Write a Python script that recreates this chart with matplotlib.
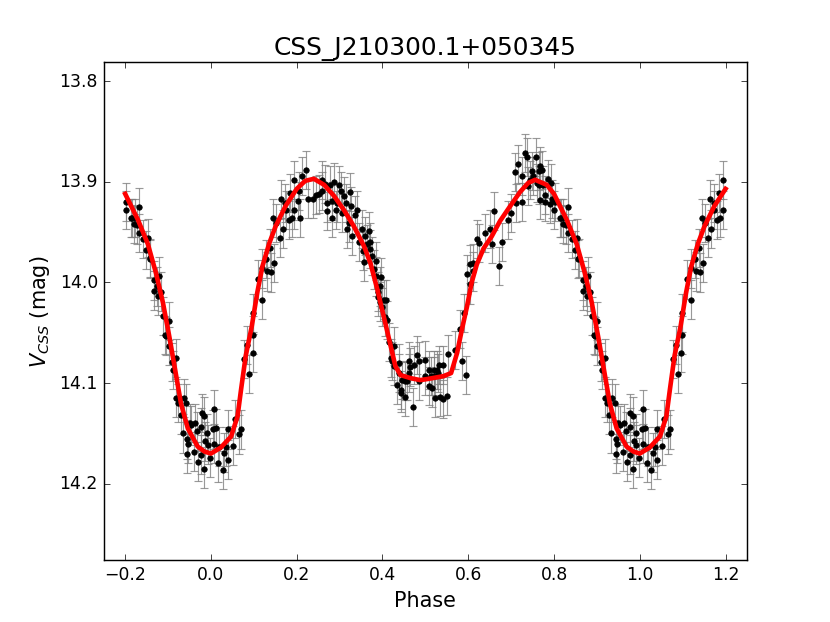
import numpy as np
import matplotlib
matplotlib.use('Agg')
import matplotlib.pyplot as plt

plt.style.use('classic')
plt.rcParams['mathtext.fontset'] = 'dejavusans'

title = "CSS_J210300.1+050345"

# Observed data (phase in [0,1), magnitude)
phase = np.array([
    0.004, 0.008, 0.008, 0.012, 0.017, 0.019, 0.027, 0.031, 0.035, 0.039, 0.039,
    0.052, 0.056, 0.066, 0.071, 0.078, 0.085, 0.089, 0.097, 0.098, 0.098, 0.109,
    0.119, 0.120, 0.128, 0.130, 0.138, 0.140, 0.145, 0.147, 0.151, 0.160, 0.163,
    0.167, 0.172, 0.174, 0.181, 0.184, 0.188, 0.194, 0.194,
    0.202, 0.205, 0.208, 0.213, 0.221, 0.226, 0.239, 0.244, 0.252, 0.260, 0.260,
    0.267, 0.271, 0.271, 0.277, 0.283, 0.283, 0.287, 0.291, 0.295, 0.298, 0.304,
    0.306, 0.310, 0.314, 0.318, 0.322, 0.324, 0.327, 0.330, 0.337, 0.341, 0.345,
    0.353, 0.355, 0.358, 0.360, 0.364, 0.368, 0.370, 0.372, 0.376, 0.380, 0.384,
    0.386, 0.389, 0.389, 0.394, 0.395, 0.397, 0.399, 0.403, 0.407, 0.409, 0.411,
    0.415, 0.419, 0.423, 0.426, 0.428, 0.433, 0.438, 0.438, 0.442, 0.443, 0.446,
    0.453, 0.453, 0.457, 0.461, 0.461, 0.465, 0.471, 0.474, 0.481, 0.484, 0.484,
    0.498, 0.498, 0.508, 0.508, 0.512, 0.516, 0.519, 0.521, 0.523, 0.527, 0.529,
    0.531, 0.533, 0.540, 0.541, 0.550, 0.552, 0.570, 0.580, 0.585, 0.591, 0.595,
    0.598, 0.603, 0.605, 0.612, 0.612, 0.620, 0.626, 0.640, 0.651, 0.655, 0.659,
    0.671, 0.678, 0.692, 0.699, 0.709, 0.712, 0.717,
    0.725, 0.725, 0.733, 0.738, 0.740, 0.744, 0.748, 0.752, 0.758, 0.760, 0.764,
    0.764, 0.767, 0.767, 0.771, 0.774, 0.779, 0.779, 0.787, 0.791, 0.792, 0.795,
    0.801, 0.802, 0.814, 0.816, 0.820, 0.822, 0.828, 0.833, 0.833, 0.841, 0.849,
    0.854, 0.857, 0.859, 0.868, 0.868, 0.874, 0.877, 0.880, 0.884, 0.888, 0.893,
    0.895, 0.901, 0.901, 0.909, 0.911, 0.919, 0.919, 0.923, 0.929, 0.934, 0.936,
    0.942, 0.944, 0.944, 0.946, 0.950, 0.953, 0.960, 0.963, 0.967, 0.970, 0.977,
    0.977, 0.978, 0.983, 0.984, 0.986, 0.991, 0.992, 0.998,
])
mag = np.array([
    14.146, 14.126, 14.160, 14.145, 14.179, 14.163, 14.186, 14.169, 14.163, 14.176, 14.146,
    14.162, 14.136, 14.151, 14.146, 14.076, 14.062, 14.091, 14.070, 14.052, 14.030, 13.997,
    13.986, 14.017, 13.977, 13.989, 13.966, 13.990, 13.936, 13.981, 13.941, 13.956, 13.917,
    13.947, 13.921, 13.928, 13.938, 13.911, 13.936, 13.898, 13.928,
    13.919, 13.909, 13.936, 13.894, 13.888, 13.917, 13.917, 13.913, 13.912, 13.909, 13.898,
    13.902, 13.921, 13.929, 13.903, 13.919, 13.936, 13.900, 13.928, 13.921, 13.903, 13.909,
    13.931, 13.914, 13.921, 13.947, 13.941, 13.910, 13.924, 13.954, 13.933, 13.928, 13.960,
    13.947, 13.969, 13.980, 13.954, 13.962, 13.949, 13.960, 13.967, 13.974, 13.987, 13.979,
    13.994, 14.009, 14.014, 14.004, 14.019, 13.995, 14.024, 14.017, 14.034, 14.017, 14.037,
    14.059, 14.075, 14.078, 14.063, 14.083, 14.102, 14.080, 14.090, 14.107, 14.110, 14.097,
    14.114, 14.098, 14.098, 14.090, 14.078, 14.084, 14.124, 14.082, 14.072, 14.078, 14.098,
    14.077, 14.093, 14.087, 14.103, 14.093, 14.105, 14.087, 14.093, 14.115, 14.087, 14.090,
    14.082, 14.114, 14.082, 14.116, 14.113, 14.071, 14.067, 14.046, 14.078, 14.030, 14.092,
    13.992, 14.002, 13.982, 13.981, 13.989, 13.957, 13.961, 13.951, 13.947, 13.962, 13.929,
    13.984, 13.960, 13.938, 13.931, 13.890, 13.921, 13.882,
    13.894, 13.920, 13.871, 13.875, 13.904, 13.898, 13.889, 13.894, 13.875, 13.901, 13.889,
    13.903, 13.884, 13.918, 13.888, 13.903, 13.913, 13.920, 13.897, 13.922, 13.901, 13.917,
    13.928, 13.920, 13.936, 13.936, 13.942, 13.936, 13.943, 13.925, 13.951, 13.957, 13.968,
    13.956, 13.977, 13.976, 13.998, 14.008, 14.004, 14.013, 13.994, 14.009, 14.033, 14.052,
    14.053, 14.038, 14.063, 14.079, 14.087, 14.075, 14.115, 14.120, 14.132, 14.150, 14.115,
    14.120, 14.156, 14.170, 14.160, 14.140, 14.142, 14.168, 14.140, 14.148, 14.178, 14.171,
    14.144, 14.130, 14.185, 14.133, 14.158, 14.150, 14.161, 14.174,
])
mag_err = 0.019

# Model light curve (phase 0..1)
model_phase = [
    0.000, 0.023, 0.047, 0.062, 0.070, 0.081, 0.095, 0.108, 0.120, 0.136, 0.151,
    0.174, 0.200, 0.220, 0.240, 0.264, 0.287, 0.310, 0.333, 0.357, 0.372, 0.388,
    0.403, 0.419, 0.430, 0.442, 0.465, 0.488, 0.504, 0.543, 0.560, 0.574, 0.585,
    0.597, 0.608, 0.620, 0.636, 0.655, 0.674, 0.698, 0.721, 0.740, 0.756, 0.783,
    0.800, 0.830, 0.853, 0.872, 0.888, 0.903, 0.919, 0.930, 0.946, 0.969, 0.985,
    1.000,
]
model_mag = [
    14.170, 14.164, 14.153, 14.133, 14.107, 14.073, 14.044, 14.010, 13.984, 13.961, 13.944,
    13.924, 13.907, 13.899, 13.897, 13.903, 13.914, 13.928, 13.944, 13.964, 13.981, 14.007,
    14.034, 14.063, 14.083, 14.092, 14.095, 14.097, 14.096, 14.093, 14.090, 14.070, 14.047,
    14.024, 14.000, 13.982, 13.966, 13.954, 13.939, 13.924, 13.910, 13.901, 13.898, 13.903,
    13.912, 13.938, 13.962, 13.991, 14.020, 14.054, 14.093, 14.120, 14.145, 14.163, 14.168,
    14.170,
]

x_ticks = [-0.2, 0.0, 0.2, 0.4, 0.6, 0.8, 1.0, 1.2]
y_ticks = [13.8, 13.9, 14.0, 14.1, 14.2]


def extend_phase(p, m, include_end=False):
    p = np.asarray(p, dtype=float)
    m = np.asarray(m, dtype=float)
    if include_end:
        left = (p >= 0.8) & (p < 1.0)
        right = (p > 0.0) & (p <= 0.2)
    else:
        left = p >= 0.8
        right = p <= 0.2
    pp = np.concatenate([p[left] - 1.0, p, p[right] + 1.0])
    mm = np.concatenate([m[left], m, m[right]])
    return pp, mm


ph_all, mag_all = extend_phase(phase, mag)
mph_all, mmag_all = extend_phase(model_phase, model_mag, include_end=True)

fig = plt.figure(figsize=(8, 6), dpi=103.75)
ax = fig.add_subplot(111)

ax.errorbar(ph_all, mag_all, yerr=mag_err, fmt='none', ecolor='0.5',
            elinewidth=0.8, capsize=3, capthick=0.8, alpha=0.8, zorder=1)
ax.plot(ph_all, mag_all, 'o', color='black', markersize=3.8,
        markeredgecolor='black', zorder=2)
ax.plot(mph_all, mmag_all, '-', color='red', linewidth=3.2, zorder=3)

ax.set_xlim(-0.25, 1.25)
ax.set_ylim(14.2755, 13.7807)
ax.set_xticks(x_ticks)
ax.set_yticks(y_ticks)
ax.set_xlabel('Phase', fontsize=14.4)
ax.set_ylabel('$V_{CSS}$ (mag)', fontsize=14.4)
ax.set_title(title, fontsize=17.28)

fig.savefig('out.png', dpi=103.75, facecolor='white')
